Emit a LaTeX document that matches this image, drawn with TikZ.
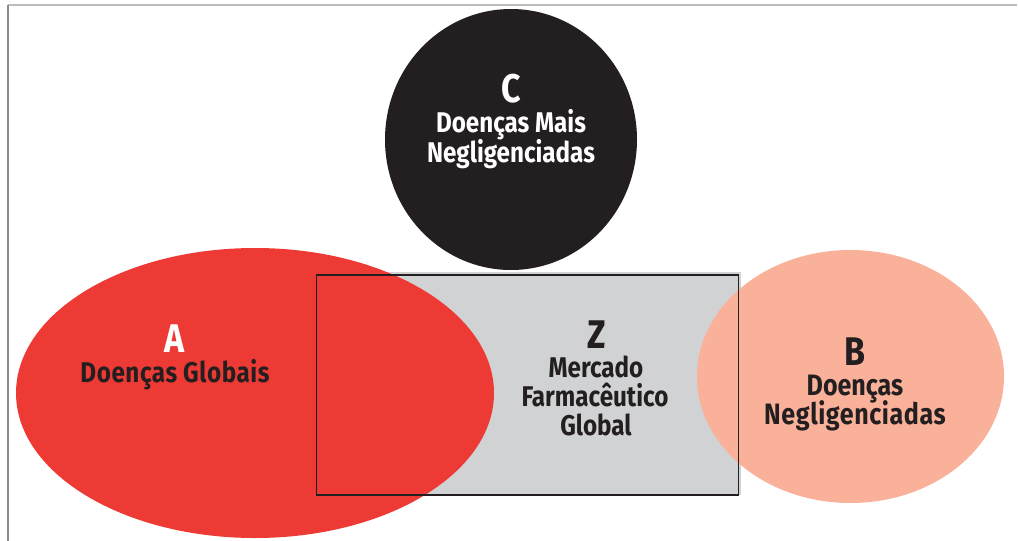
\documentclass[tikz,border=0pt]{standalone}
\usepackage{fontspec}
\setmainfont{Fira Sans}[FakeStretch=0.85]
\definecolor{redA}{HTML}{EE3A34}
\definecolor{salmonB}{HTML}{F9B19A}
\definecolor{grayZ}{HTML}{D1D2D4}
\definecolor{blackC}{HTML}{231F20}
\definecolor{frameTop}{HTML}{BDBDBD}
\definecolor{frameLeft}{HTML}{8A8A8A}
\tikzset{
  letter/.style={anchor=base, inner sep=0pt, font=\fontsize{40}{40}\selectfont\bfseries},
  desc/.style={anchor=base, inner sep=0pt, font=\fontsize{28.5}{29}\selectfont\bfseries},
  descB/.style={anchor=base, inner sep=0pt, font=\fontsize{29.5}{30}\selectfont\bfseries},
  ink/.style={text=blackC},
  paper/.style={text=white},
}
\begin{document}
\begin{tikzpicture}[x=1pt,y=-1pt]
\useasboundingbox (0,0) rectangle (1018,541);
% frame
\draw[frameTop, line width=1.5pt] (8,5) -- (1017,5);
\draw[frameLeft, line width=1.2pt] (8,5) -- (8,541);
% shapes
\fill[grayZ] (317,272) rectangle (741,495);
\fill[redA] (255,393) ellipse [x radius=239, y radius=145];
\fill[salmonB] (850.5,376.5) ellipse [x radius=153.5, y radius=126.5];
\fill[blackC] (511,139.5) ellipse [x radius=126, y radius=130.5];
\draw[blackC, line width=1.4pt] (316.7,275) rectangle (738.3,495);
% C
\node[letter, paper] (cL) at (511,102) {C};
\node[desc, paper] (c1) at (511,132) {Doenças Mais};
\node[desc, paper] (c2) at (511,162) {Negligenciadas};
% A
\node[letter, paper] (aL) at (175,352) {A};
\node[desc, ink] (a1) at (175,382) {\addfontfeature{LetterSpace=2}Doenças\hspace{6pt}Globais};
% Z
\node[letter, ink] (zL) at (597,348) {Z};
\node[desc, ink] (z1) at (596,377) {Mercado};
\node[desc, ink] (z2) at (595,406) {Farmacêutico};
\node[desc, ink] (z3) at (596,435) {Global};
% B
\node[letter, ink] (bL) at (855,365) {B};
\node[descB, ink] (b1) at (855,395) {Doenças};
\node[descB, ink] (b2) at (855,424) {\addfontfeature{LetterSpace=2}Negligenciadas};
\end{tikzpicture}
\end{document}
